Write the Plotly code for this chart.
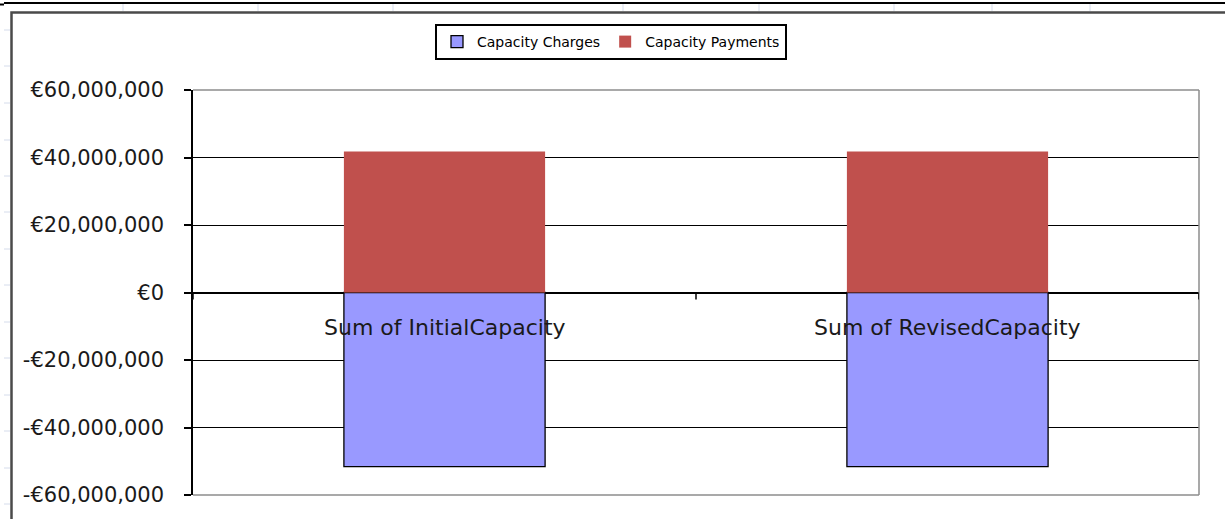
import plotly.graph_objects as go

# ---- data ----
categories = ["Sum of InitialCapacity", "Sum of RevisedCapacity"]
capacity_charges = [-51_600_000, -51_600_000]
capacity_payments = [41_800_000, 41_800_000]
tick_values = [60_000_000, 40_000_000, 20_000_000, 0, -20_000_000, -40_000_000, -60_000_000]
tick_labels = ["€60,000,000", "€40,000,000", "€20,000,000", "€0",
               "-€20,000,000", "-€40,000,000", "-€60,000,000"]

W, H = 1225, 519
L, R, T, B = 193, 26, 90, 24
pw, ph = W - L - R, H - T - B


def px(x):
    return (x - L) / pw


def py(y):
    return (H - B - y) / ph


fig = go.Figure()
fig.add_trace(go.Bar(
    name="Capacity Charges", x=categories, y=capacity_charges,
    marker=dict(color="#9999FF", line=dict(color="#000000", width=1.3)),
))
fig.add_trace(go.Bar(
    name="Capacity Payments", x=categories, y=capacity_payments,
    marker=dict(color="#C0504D", line=dict(width=0)),
))

shapes = []
# plot area frame (grey top, right, bottom)
for (x0, y0, x1, y1) in [(0, 1, 1, 1), (1, 0, 1, 1), (0, 0, 1, 0)]:
    shapes.append(dict(type="line", xref="paper", yref="paper", x0=x0, y0=y0, x1=x1, y1=y1,
                       line=dict(color="#8C8C8C", width=1.5), layer="above"))
# x-axis tick marks on the zero line (category boundaries)
for b in [-0.5, 0.5, 1.5]:
    shapes.append(dict(type="line", xref="x", yref="y", ysizemode="pixel", yanchor=0,
                       x0=b, x1=b, y0=0, y1=-7, line=dict(color="#000000", width=1.5)))
# outer chart frame
shapes.append(dict(type="rect", xref="paper", yref="paper", x0=px(11.5), x1=px(1300),
                   y0=py(560), y1=py(12.5), line=dict(color="#4A4A4A", width=2.5),
                   fillcolor="rgba(0,0,0,0)", layer="below"))
# spreadsheet top border line
shapes.append(dict(type="line", xref="paper", yref="paper", x0=px(4), x1=px(1230),
                   y0=py(3), y1=py(3), line=dict(color="#000000", width=2)))
shapes.append(dict(type="line", xref="paper", yref="paper", x0=px(0), x1=px(4),
                   y0=py(4.5), y1=py(4.5), line=dict(color="#000000", width=2)))
# faint spreadsheet grid stubs
for gx in [123, 258, 393, 623, 759, 894, 992, 1090]:
    shapes.append(dict(type="line", xref="paper", yref="paper", x0=px(gx), x1=px(gx),
                       y0=py(4), y1=py(11), line=dict(color="#D5DCEB", width=1)))
for gy in [30, 66, 103, 140, 176, 212, 249, 285, 322, 358, 395, 431, 468, 504]:
    shapes.append(dict(type="line", xref="paper", yref="paper", x0=px(4), x1=px(10),
                       y0=py(gy), y1=py(gy), line=dict(color="#D5DCEB", width=1)))

annotations = [
    dict(x=c, y=0, xref="x", yref="y", text=c, showarrow=False, yanchor="middle",
         yshift=-35, font=dict(family="DejaVu Sans", size=22, color="#1A1A1A"))
    for c in categories
]

fig.update_layout(
    width=W, height=H,
    margin=dict(l=L, r=R, t=T, b=B, pad=0),
    paper_bgcolor="white", plot_bgcolor="white",
    barmode="relative", bargap=0.6,
    font=dict(family="DejaVu Sans", color="#000000"),
    showlegend=True,
    legend=dict(orientation="h", x=px(435), y=py(24), xanchor="left", yanchor="top",
                bordercolor="#000000", borderwidth=2, bgcolor="white",
                font=dict(family="DejaVu Sans", size=14, color="#000000"),
                traceorder="normal", itemwidth=30),
    shapes=shapes,
    annotations=annotations,
)
fig.update_xaxes(showticklabels=False, showgrid=False, zeroline=False, showline=False,
                 ticks="", range=[-0.5, 1.5])
fig.update_yaxes(range=[-60_000_000, 60_000_000], tickvals=tick_values, ticktext=tick_labels,
                 showgrid=True, gridcolor="#000000", gridwidth=1.2,
                 zeroline=True, zerolinecolor="#000000", zerolinewidth=2,
                 showline=True, linecolor="#000000", linewidth=1.5,
                 ticks="outside", ticklen=7, tickcolor="#000000", tickwidth=1.5,
                 ticklabelstandoff=16,
                 tickfont=dict(family="DejaVu Sans", size=21, color="#1A1A1A"))

fig.write_html("out.html", config={"displayModeBar": False},
               post_script="document.body.style.margin='0';document.body.style.overflow='hidden';")
